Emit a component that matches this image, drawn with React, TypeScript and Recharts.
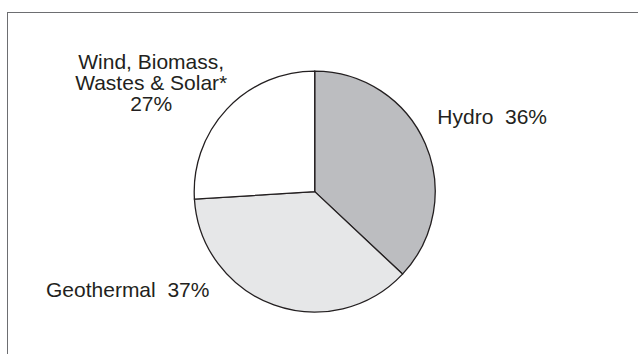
import React from "react";
import { PieChart, Pie, Cell } from "recharts";

// slice sizes as drawn (printed labels are rounded differently)
const sources = ["Hydro", "Geothermal", "Wind, Biomass, Wastes & Solar*"];
const shares = [37, 37, 26];
const labelLines = [["Hydro  36%"], ["Geothermal  37%"], ["Wind, Biomass,", "Wastes & Solar*", "27%"]];
const fills = ["#bcbdc0", "#e6e7e8", "#ffffff"];

const chartData = sources.map((name, i) => ({ name, value: shares[i] }));

// label placement relative to the pie centre
const labelLayout = [
  { dx: 122.6, dy: -67.4, anchor: "start" },
  { dx: -268.7, dy: 105, anchor: "start" },
  { dx: -163.5, dy: -122.4, anchor: "middle" },
];

const FONT = '"Liberation Sans", Arial, Helvetica, sans-serif';

const renderLabel = (props: any) => {
  const { cx, cy, index } = props;
  const pos = labelLayout[index];
  const lines = labelLines[index];
  return (
    <text
      x={cx + pos.dx}
      y={cy + pos.dy}
      textAnchor={pos.anchor}
      fill="#231f20"
      fontSize={21}
      fontFamily={FONT}
      style={{ whiteSpace: "pre" }}
    >
      {lines.map((line, i) => (
        <tspan key={i} x={cx + pos.dx} dy={i === 0 ? 0 : 21}>
          {line}
        </tspan>
      ))}
    </text>
  );
};

export default function App() {
  return (
    <div style={{ position: "absolute", left: 0, top: 0, width: 638, height: 354, background: "#fff", overflow: "hidden" }}>
      <div
        style={{
          position: "absolute",
          left: 7.3,
          top: 12.3,
          width: 640,
          height: 350,
          borderTop: "1.4px solid #6d6e71",
          borderLeft: "1.4px solid #6d6e71",
        }}
      />
      <div style={{ position: "absolute", left: 0, top: 0 }}>
        <PieChart width={638} height={354} margin={{ top: 0, right: 0, bottom: 0, left: 0 }}>
          <Pie
            data={chartData}
            dataKey="value"
            nameKey="name"
            cx={314.7}
            cy={191.6}
            outerRadius={120.5}
            startAngle={90}
            endAngle={-270}
            stroke="#231f20"
            strokeWidth={1.3}
            label={renderLabel}
            labelLine={false}
            isAnimationActive={false}
          >
            {chartData.map((d, i) => (
              <Cell key={d.name} fill={fills[i]} />
            ))}
          </Pie>
        </PieChart>
      </div>
    </div>
  );
}
